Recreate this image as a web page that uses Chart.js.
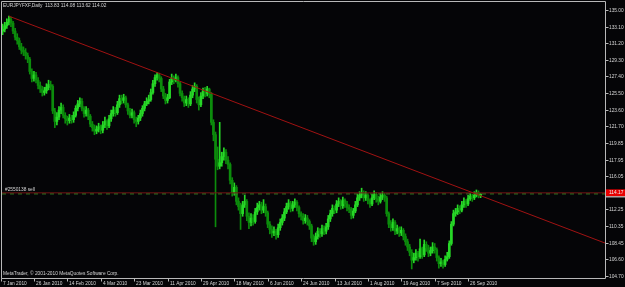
<!DOCTYPE html>
<html>
<head>
<meta charset="utf-8">
<script src="https://cdn.jsdelivr.net/npm/chart.js@4.4.1/dist/chart.umd.min.js"></script>
<style>
  html, body { margin: 0; padding: 0; background: #050507; }
  canvas { display: block; }
</style>
</head>
<body>
<canvas id="chart" width="625" height="287"></canvas>
<script>
// EURJPYFXF daily bars, 7 Jan 2010 .. 1 Oct 2010 (bar index 0..229)
const opens = [
  132.6,132.8,133.2,133.6,133.9,133.5,132.6,131.9,131.5,130.8,
  130.4,130.2,129.8,129.4,128.0,127.2,127.6,127.0,126.4,126.0,
  125.6,125.8,126.2,126.5,126.3,123.5,122.3,122.8,123.6,123.9,
  123.0,122.6,122.4,122.7,122.5,123.0,123.8,124.3,124.6,123.8,
  123.2,123.6,122.9,122.0,121.6,121.2,121.4,121.7,121.3,121.9,
  122.3,121.8,122.6,123.2,123.6,123.3,124.2,124.9,124.7,125.0,
  124.2,123.5,123.0,123.3,122.5,122.3,122.7,123.2,123.8,124.3,
  124.6,124.8,125.6,126.6,127.3,127.6,127.2,126.0,125.2,124.7,
  125.0,126.8,127.2,127.0,127.3,126.6,125.5,125.0,124.4,124.8,
  124.3,125.3,126.0,126.3,124.8,124.2,125.2,125.8,125.5,126.0,
  125.4,122.2,120.8,118.0,117.2,117.6,118.3,118.8,117.9,117.4,
  115.6,114.2,114.8,113.2,112.6,111.8,112.8,113.2,111.5,110.8,
  111.3,110.9,112.0,112.5,112.8,112.2,112.6,111.9,110.6,110.0,
  109.6,109.8,109.4,110.2,110.8,111.3,112.0,112.6,113.0,112.4,
  112.8,113.1,112.5,111.8,111.5,111.0,111.3,110.9,110.4,109.0,
  108.6,109.2,109.8,109.5,110.1,109.8,110.3,111.2,111.8,112.4,
  112.2,112.9,113.2,112.7,113.3,112.9,112.5,112.3,111.6,112.1,
  112.8,113.6,113.9,114.2,113.6,113.9,113.3,112.9,113.6,114.0,
  113.5,113.2,113.7,113.9,113.6,111.8,110.6,110.2,110.8,109.8,
  110.1,109.6,109.9,109.2,108.6,108.0,107.4,106.5,106.8,107.3,
  106.9,107.8,107.1,108.3,107.9,107.3,107.6,108.0,107.7,106.8,
  106.1,106.3,106.0,106.6,106.9,108.4,110.6,111.8,112.0,112.4,
  112.2,112.8,113.2,112.9,113.5,113.8,113.6,113.9,114.2,113.83
];
const closes = [
  132.8,133.2,133.6,133.9,133.5,132.6,131.9,131.5,130.8,130.4,
  130.2,129.8,129.4,128.0,127.2,127.6,127.0,126.4,126.0,125.6,
  125.8,126.2,126.5,126.3,123.5,122.3,122.8,123.6,123.9,123.0,
  122.6,122.4,122.7,122.5,123.0,123.8,124.3,124.6,123.8,123.2,
  123.6,122.9,122.0,121.6,121.2,121.4,121.7,121.3,121.9,122.3,
  121.8,122.6,123.2,123.6,123.3,124.2,124.9,124.7,125.0,124.2,
  123.5,123.0,123.3,122.5,122.3,122.7,123.2,123.8,124.3,124.6,
  124.8,125.6,126.6,127.3,127.6,127.2,126.0,125.2,124.7,125.0,
  126.8,127.2,127.0,127.3,126.6,125.5,125.0,124.4,124.8,124.3,
  125.3,126.0,126.3,124.8,124.2,125.2,125.8,125.5,126.0,125.4,
  122.2,120.8,118.0,117.2,117.6,118.3,118.8,117.9,117.4,115.6,
  114.2,114.8,113.2,112.6,111.8,112.8,113.2,111.5,110.8,111.3,
  110.9,112.0,112.5,112.8,112.2,112.6,111.9,110.6,110.0,109.6,
  109.8,109.4,110.2,110.8,111.3,112.0,112.6,113.0,112.4,112.8,
  113.1,112.5,111.8,111.5,111.0,111.3,110.9,110.4,109.0,108.6,
  109.2,109.8,109.5,110.1,109.8,110.3,111.2,111.8,112.4,112.2,
  112.9,113.2,112.7,113.3,112.9,112.5,112.3,111.6,112.1,112.8,
  113.6,113.9,114.2,113.6,113.9,113.3,112.9,113.6,114.0,113.5,
  113.2,113.7,113.9,113.6,111.8,110.6,110.2,110.8,109.8,110.1,
  109.6,109.9,109.2,108.6,108.0,107.4,106.5,106.8,107.3,106.9,
  107.8,107.1,108.3,107.9,107.3,107.6,108.0,107.7,106.8,106.1,
  106.3,106.0,106.6,106.9,108.4,110.6,111.8,112.0,112.4,112.2,
  112.8,113.2,112.9,113.5,113.8,113.6,113.9,114.2,113.83,114.02
];
const highs = [
  133.4,133.6,134.0,134.3,134.2,133.7,132.9,132.3,131.8,131.2,
  130.8,130.6,130.1,129.6,128.3,128.0,127.9,127.3,126.8,126.3,
  126.2,126.6,127.0,126.9,126.5,123.8,123.3,124.0,124.4,124.2,
  123.3,122.9,123.1,123.0,123.4,124.1,124.7,125.0,124.9,124.0,
  124.0,123.8,123.1,122.3,121.9,121.8,122.1,121.9,122.3,122.8,
  122.5,123.0,123.6,124.0,123.9,124.6,125.3,125.3,125.4,125.2,
  124.4,123.8,123.7,123.5,122.8,123.0,123.6,124.1,124.6,125.0,
  125.3,126.0,127.0,127.6,127.9,127.8,127.4,126.3,125.5,125.4,
  127.1,127.7,127.5,127.7,127.5,126.8,125.8,125.2,125.2,125.0,
  125.7,126.4,126.7,126.5,125.1,125.6,126.1,126.2,126.3,126.1,
  125.6,122.5,121.1,119.4,122.2,118.8,119.3,119.1,118.3,117.6,
  115.9,115.3,115.0,113.6,113.0,113.2,113.9,113.4,111.9,111.8,
  111.7,112.4,113.0,113.2,113.1,113.4,112.9,112.1,110.9,110.4,
  110.3,110.0,110.6,111.2,111.7,112.4,113.0,113.4,113.2,113.2,
  113.5,113.3,112.7,112.0,111.8,111.7,111.6,111.1,110.6,109.4,
  109.6,110.2,110.1,110.5,110.4,110.7,111.6,112.2,112.8,112.7,
  113.3,113.6,113.4,113.7,113.5,113.2,112.8,112.5,112.4,113.2,
  114.0,114.3,114.7,114.4,114.3,114.1,113.5,114.0,114.4,114.2,
  113.8,114.1,114.3,114.1,113.8,112.0,111.0,111.2,111.0,110.5,
  110.3,110.3,110.1,109.5,108.9,108.3,107.7,107.3,107.7,107.5,
  108.9,108.0,108.8,108.6,108.2,108.0,108.5,108.4,107.9,107.0,
  106.7,106.5,107.0,107.4,108.7,110.9,112.2,112.4,112.8,112.7,
  113.2,113.6,113.4,113.9,114.1,114.0,114.3,114.5,114.4,114.08
];
const lows = [
  132.2,132.5,132.9,133.3,133.1,132.3,131.6,131.1,130.5,130.0,
  129.8,129.4,129.0,127.7,126.8,126.9,126.7,126.0,125.6,125.2,
  125.3,125.5,125.9,125.9,123.2,121.6,121.9,122.5,123.2,122.7,
  122.1,121.9,122.1,122.1,122.2,122.8,123.5,124.0,123.5,122.8,
  122.9,122.5,121.7,121.2,120.8,120.9,121.1,120.9,121.0,121.6,
  121.4,121.6,122.3,122.9,122.9,123.1,123.9,124.3,124.4,123.9,
  123.1,122.7,122.7,122.1,121.7,122.0,122.4,122.9,123.5,124.1,
  124.3,124.6,125.4,126.3,127.0,126.8,125.7,124.9,124.3,124.4,
  124.9,126.5,126.6,126.8,126.2,125.2,124.6,124.0,124.1,123.9,
  124.1,125.0,125.7,124.4,123.6,124.0,124.9,125.1,125.2,125.0,
  121.9,120.1,110.3,116.8,116.9,117.2,117.9,117.5,116.9,115.2,
  113.8,113.9,112.8,112.2,110.0,111.5,112.5,111.0,110.1,110.4,
  110.5,110.7,111.7,112.2,111.8,111.9,111.5,110.2,109.5,109.1,
  109.3,108.9,109.1,109.9,110.5,111.0,111.8,112.3,112.0,112.1,
  112.5,112.1,111.4,111.1,110.6,110.7,110.5,110.0,108.6,108.2,
  108.3,108.9,109.1,109.2,109.4,109.5,110.0,110.9,111.5,111.8,
  111.9,112.6,112.3,112.4,112.5,112.1,111.9,111.2,111.3,111.9,
  112.6,113.3,113.6,113.2,113.3,112.9,112.5,112.7,113.4,113.1,
  112.8,113.0,113.4,113.2,111.5,110.2,109.8,109.9,109.4,109.5,
  109.2,109.3,108.8,108.2,107.6,107.0,105.5,106.2,106.5,106.4,
  106.7,106.7,106.9,107.5,106.9,107.0,107.3,107.3,106.4,105.6,
  105.8,105.6,105.8,106.4,106.7,108.2,110.4,111.5,111.7,111.8,
  112.0,112.5,112.5,112.7,113.3,113.2,113.4,113.7,113.6,113.62
];

// time axis labels (bar index where each label sits)
const dateLabels = ['7 Jan 2010','26 Jan 2010','14 Feb 2010','4 Mar 2010','23 Mar 2010','11 Apr 2010','29 Apr 2010',
  '18 May 2010','6 Jun 2010','24 Jun 2010','13 Jul 2010','1 Aug 2010','19 Aug 2010','7 Sep 2010','26 Sep 2010'];
const dateLabelBars = [0,16,32,48,64,80,96,112,128,144,160,176,192,208,224];

// price axis
const priceTicks = [135.00,133.11,131.21,129.32,127.43,125.53,123.64,121.74,119.85,117.96,116.06,114.17,112.28,110.38,108.49,106.59,104.70];
const priceLabels = ['135.00','133.10','131.20','129.30','127.40','125.50','123.60','121.70','119.85','117.95','116.05','114.17','112.25','110.35','108.45','106.60','104.70'];

// drawn objects
const trendBars = [3, 288.6];
const trendPrices = [134.3, 108.45];
const redLinePrice = 114.17;
const orderPrice = 114.05;
const orderText = '#2550138 sell';
const headerText = 'EURJPYFXF,Daily  113.83 114.08 113.62 114.02';
const footerText = 'MetaTrader, \u00a9 2001-2010 MetaQuotes Software Corp.';

const X_MIN = -0.3, X_MAX = 288.6;
const Y_MIN = 104.47, Y_MAX = 135.91;

const UP = '#27d827';
const DOWN = '#0c8c0c';
const AXIS = '#b8b8b8';
const TEXT = '#d6d6d6';
const FONT = '4.8px "Liberation Sans", Arial, sans-serif';

const wickData = highs.map((h, i) => ({ x: i, y: [lows[i], h] }));
const bodyData = opens.map((o, i) => ({ x: i, y: [Math.min(o, closes[i]), Math.max(o, closes[i])] }));
const barColor = c => (closes[c.dataIndex] >= opens[c.dataIndex] ? UP : DOWN);

const frame = {
    id: 'frame',
    beforeDraw(chart) {
        const ctx = chart.ctx;
        ctx.save();
        ctx.fillStyle = '#050507';
        ctx.fillRect(0, 0, chart.width, chart.height);
        ctx.restore();
    },
    afterDraw(chart) {
        const { ctx, chartArea: a, scales: { x, y } } = chart;
        ctx.save();
        ctx.lineWidth = 1;
        ctx.strokeStyle = AXIS;

        // frame
        ctx.beginPath();
        ctx.moveTo(a.left - 0.5, a.bottom + 0.5);
        ctx.lineTo(a.left - 0.5, a.top - 0.5);
        ctx.lineTo(a.right + 0.5, a.top - 0.5);
        ctx.lineTo(a.right + 0.5, a.bottom + 0.5);
        ctx.lineTo(a.left - 0.5, a.bottom + 0.5);
        ctx.stroke();

        ctx.font = FONT;
        ctx.fillStyle = TEXT;
        ctx.textBaseline = 'middle';
        ctx.textAlign = 'left';

        // price scale
        priceTicks.forEach((v, k) => {
            const py = Math.round(y.getPixelForValue(v)) + 0.5;
            ctx.beginPath();
            ctx.moveTo(a.right + 0.5, py);
            ctx.lineTo(a.right + 3.5, py);
            ctx.stroke();
            ctx.fillText(priceLabels[k], a.right + 4, py);
        });

        // red line price tag
        const ry = y.getPixelForValue(redLinePrice);
        ctx.fillStyle = '#e80000';
        ctx.fillRect(a.right + 1, ry - 3.5, 19, 7);
        ctx.fillStyle = '#f0f0f0';
        ctx.fillRect(a.right + 1, ry + 3.5, 19, 1);
        ctx.fillText(redLinePrice.toFixed(2), a.right + 4, ry);

        // time scale
        ctx.fillStyle = TEXT;
        dateLabelBars.forEach((b, k) => {
            const px = Math.round(x.getPixelForValue(b)) - 1.5;
            ctx.beginPath();
            ctx.moveTo(px, a.bottom + 0.5);
            ctx.lineTo(px, a.bottom + 3.5);
            ctx.stroke();
            ctx.fillText(dateLabels[k], px + 1.5, a.bottom + 5.5);
        });

        // texts
        ctx.fillText(headerText, 3, 6);
        ctx.fillText(footerText, 3, 273.5);
        ctx.fillText(orderText, 5, ry - 3.2);
        ctx.restore();
    }
};

new Chart(document.getElementById('chart'), {
    type: 'bar',
    data: {
        datasets: [
            {
                type: 'line',
                label: 'trend',
                data: trendBars.map((b, i) => ({ x: b, y: trendPrices[i] })),
                borderColor: '#a01212',
                borderWidth: 1,
                pointRadius: 0,
                fill: false,
                order: 0
            },
            {
                type: 'line',
                label: 'order',
                data: [{ x: X_MIN, y: orderPrice }, { x: X_MAX, y: orderPrice }],
                borderColor: '#2f8a26',
                borderWidth: 1,
                borderDash: [4, 4],
                pointRadius: 0,
                fill: false,
                order: 2
            },
            {
                type: 'line',
                label: 'level',
                data: [{ x: X_MIN, y: redLinePrice }, { x: X_MAX, y: redLinePrice }],
                borderColor: '#741414',
                borderWidth: 1,
                pointRadius: 0,
                fill: false,
                order: 1
            },
            {
                label: 'wick',
                data: wickData,
                grouped: false,
                barThickness: 1,
                backgroundColor: barColor,
                order: 4
            },
            {
                label: 'body',
                data: bodyData,
                grouped: false,
                barThickness: 2,
                minBarLength: 1,
                backgroundColor: barColor,
                order: 3
            }
        ]
    },
    options: {
        responsive: false,
        animation: false,
        layout: { padding: { left: 2, top: 2, right: 20, bottom: 9 } },
        plugins: { legend: { display: false }, tooltip: { enabled: false } },
        scales: {
            x: { type: 'linear', min: X_MIN, max: X_MAX, offset: false, display: false },
            y: { type: 'linear', min: Y_MIN, max: Y_MAX, display: false }
        }
    },
    plugins: [frame]
});
</script>
</body>
</html>
